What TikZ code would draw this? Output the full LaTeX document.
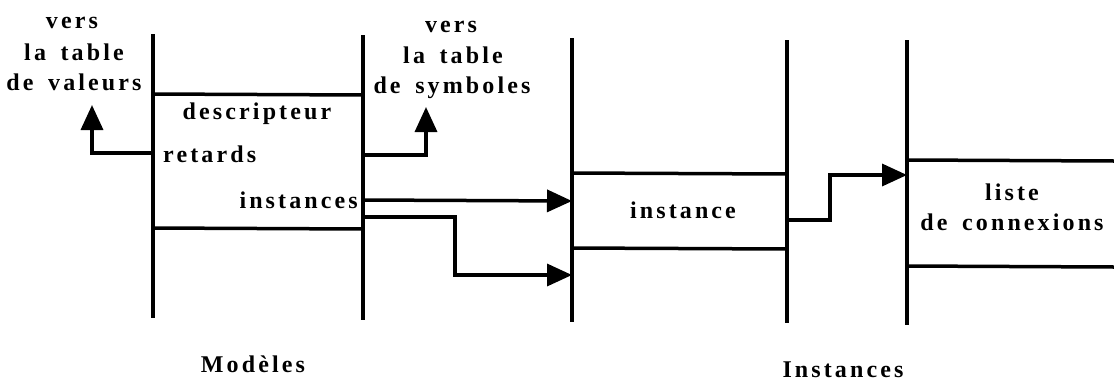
\documentclass[tikz,border=0pt]{standalone}
\usepackage{fontspec}
\setmainfont{Liberation Serif}
\newfontfamily\lsfont[LetterSpace=13,WordSpace=1.6]{Liberation Serif}
\usetikzlibrary{arrows.meta}
\tikzset{
  wire/.style={line width=3.5pt},
  arr/.style={line width=3.5pt,-{Triangle[length=25pt,width=22pt]}},
  lbl/.style={font=\lsfont\bfseries\fontsize{24}{30}\selectfont,inner sep=0pt,anchor=base}
}
\begin{document}
\begin{tikzpicture}[x=1pt,y=-1pt]
\useasboundingbox (0,0) rectangle (1114,381);
% vertical lines
\coordinate (v1t) at (153,34);  \coordinate (v1b) at (153,318);
\coordinate (v2t) at (363,35);  \coordinate (v2b) at (363,320);
\coordinate (v3t) at (572,38);  \coordinate (v3b) at (572,322);
\coordinate (v4t) at (787,40);  \coordinate (v4b) at (787,323);
\coordinate (v5t) at (907,40);  \coordinate (v5b) at (907,325);
\draw[wire] (v1t) -- (v1b);
\draw[wire] (v2t) -- (v2b);
\draw[wire] (v3t) -- (v3b);
\draw[wire] (v4t) -- (v4b);
\draw[wire] (v5t) -- (v5b);
% horizontal lines
\draw[wire] (153,94) -- (363,95);
\draw[wire] (153,228) -- (363,229);
\draw[wire] (572,173) -- (787,174);
\draw[wire] (572,248) -- (787,249);
\draw[wire] (907,160) -- (1114,161);
\draw[wire] (907,266) -- (1114,267);
% texts
\node[lbl] (val1) at (72,28) {vers};
\node[lbl] (val2) at (74,60) {la table};
\node[lbl] (val3) at (74,90) {de valeurs};
\node[lbl] (sym1) at (451,32) {vers};
\node[lbl] (sym2) at (453,63) {la table};
\node[lbl] (sym3) at (452,93) {de symboles};
\node[lbl] (descr) at (257,119) {descripteur};
\node[lbl,anchor=base west] (retards) at (163,162) {retards};
\node[lbl,anchor=base east] (inst) at (358,208) {instances};
\node[lbl] (instance) at (683,218) {instance};
\node[lbl] (liste1) at (1012,200) {liste};
\node[lbl] (liste2) at (1012,230) {de connexions};
\node[lbl] (modeles) at (253,372) {Modèles};
\node[lbl] (instances) at (843,377) {Instances};
% arrows
\coordinate (r0) at (153,153); \coordinate (r1) at (92,105);
\draw[arr] (r0) -| (r1);
\coordinate (s0) at (363,155); \coordinate (s1) at (426,107);
\draw[arr] (s0) -| (s1);
\coordinate (i0) at (363,200); \coordinate (i1) at (572,201);
\draw[arr] (i0) -- (i1);
\coordinate (j0) at (363,217); \coordinate (j1) at (572,275);
\draw[arr] (j0) -- (455,217) |- (j1);
\coordinate (k0) at (787,220); \coordinate (k1) at (907,175);
\draw[arr] (k0) -- (830,220) |- (k1);
\end{tikzpicture}
\end{document}
